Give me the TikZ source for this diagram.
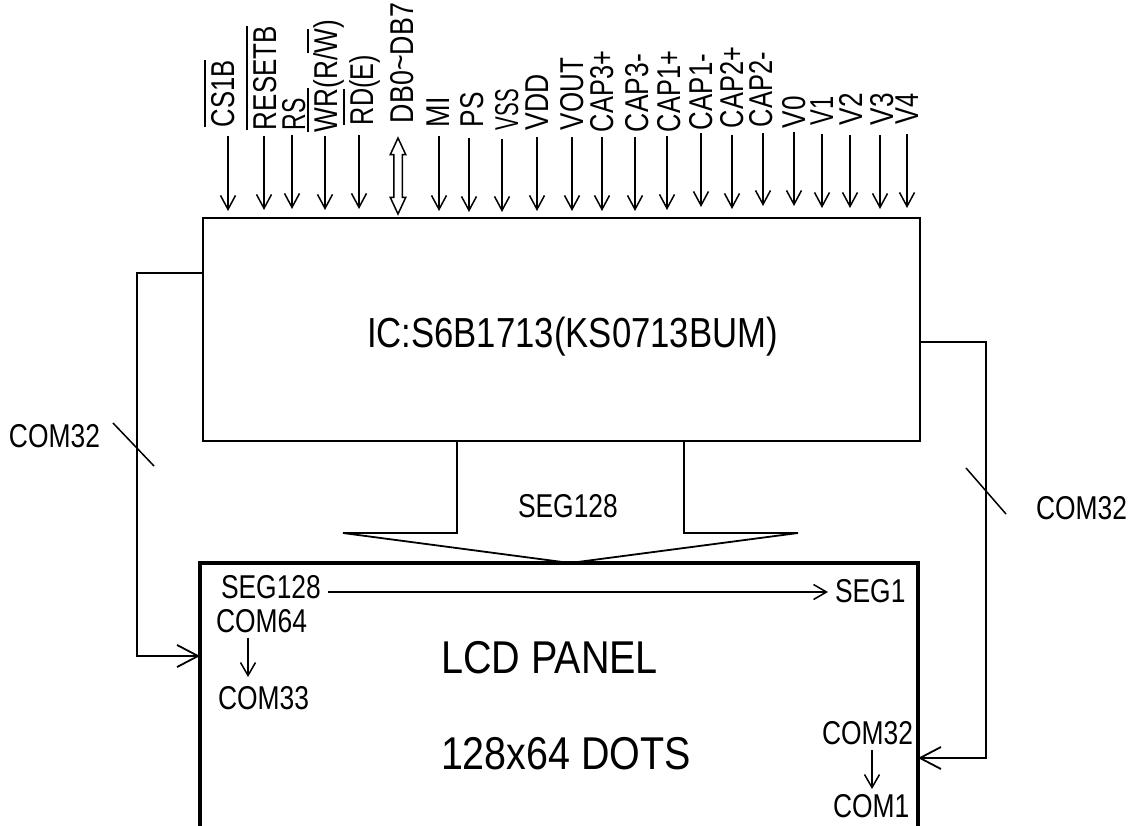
\documentclass[tikz,border=0pt]{standalone}
\usepackage{fontspec}
\setmainfont[FakeStretch=0.8]{Liberation Sans}
\usetikzlibrary{arrows.meta,shapes.arrows}
\newbox\barbox
\newcommand{\barred}[1]{\leavevmode\setbox\barbox\hbox{#1}\rlap{\raisebox{28pt}{\rule{\wd\barbox}{1.6pt}}}\box\barbox}
\newcommand{\fs}[1]{\fontsize{#1}{#1}\selectfont}

\begin{document}
\begin{tikzpicture}[
  x=1pt, y=-1pt,
  font=\fs{33},
  every node/.style={inner sep=0pt, outer sep=0pt},
  line width=1.5pt,
  block/.style={draw, minimum width=717pt, minimum height=223pt},
  panel/.style={draw, line width=4pt, minimum width=718pt, minimum height=300pt},
  pinlabel/.style={rotate=90, anchor=base west},
  textlabel/.style={anchor=base west},
  biglabel/.style={anchor=base west, font=\fs{46}},
  pinarrow/.style={-{Straight Barb[length=14pt, width=15pt]}},
  smallarrow/.style={-{Straight Barb[length=13pt, width=15pt]}},
  busarrow/.style={-{Straight Barb[length=21pt, width=22pt]}},
  busline/.style={line width=1.8pt},
  dbarrow/.style={draw, fill=white, double arrow, minimum height=76pt, inner xsep=0pt, inner ysep=3.5pt, double arrow head extend=3.5pt, double arrow tip angle=50, rotate=90}
]
\clip (0,0) rectangle (1131,825);

\node[block] (ic) at (561.5,329.5) {};
\node[panel] (lcd) at (559,713) {};
\node[biglabel, font=\fs{42}] (icName) at (367,347) {\resizebox{411pt}{\height}{IC:S6B1713(KS0713BUM)}};
\node[biglabel] (lcdName) at (441,673) {\resizebox{217pt}{\height}{LCD PANEL}};
\node[biglabel] (lcdDots) at (441,769) {\resizebox{250pt}{\height}{128x64 DOTS}};

% control and supply pins along the top
\foreach \name/\txt/\len/\base/\bot/\ax/\top/\tip in {
  cs/{\barred{CS1B}}/67/234/127/228/136/211,
  reset/{\barred{RESETB}}/104/276/130/264/136/210,
  rs/{RS}/32/305/130/292/135/209,
  wr/{\barred{WR}(R/\barred{W})}/112/337/132/325/136/210,
  rd/{\barred{RD}(E)}/70/373/125/359/135/209,
  mi/{MI}/30/449/127/439/136/211,
  ps/{PS}/35/483/127/469/138/212,
  vss/{VSS}/41/518/130/502/139/212,
  vdd/{VDD}/56/548/130/537/137/211,
  vout/{VOUT}/72/583/130/572/137/211,
  capa/{CAP3+}/81/613/132/602/137/211,
  capb/{CAP3-}/78/648/132/635/137/211,
  capc/{CAP1+}/81/680/132/667/136/210,
  capd/{CAP1-}/76/712/130/701/133/207,
  cape/{CAP2+}/81/743/128/732/135/209,
  capf/{CAP2-}/75/772/127/763/133/206,
  vzero/{V0}/32/805/128/794/132/206,
  vone/{V1}/29/833/125/822/134/208,
  vtwo/{V2}/32/862/125/850/135/208,
  vthree/{V3}/32/893/125/880/135/209,
  vfour/{V4}/31/918/124/907/134/208}
{
  \node[pinlabel] (\name) at (\base,\bot) {\resizebox{\len pt}{\height}{\txt}};
  \coordinate (\name Top) at (\ax,\top);
  \coordinate (\name Tip) at (\ax,\tip);
  \draw[pinarrow] (\name Top) -- (\name Tip);
}
\node[pinlabel] (db) at (413,123) {\resizebox{120pt}{\height}{DB0\raisebox{2pt}{\textasciitilde}DB7}};
\node[dbarrow] (dbArrow) at (398,176) {};

% COM buses either side
\coordinate (comLeft) at (ic.west |- 0,273);
\coordinate (comRight) at (ic.east |- 0,342);
\coordinate (lcdLeft) at (lcd.west |- 0,656);
\coordinate (lcdRight) at (lcd.east |- 0,758);
\draw[busarrow, busline] (comLeft) -- (137,273) -- (137,656) -- (lcdLeft);
\draw[busarrow, busline] (comRight) -- (986,342) -- (986,758) -- (lcdRight);
\coordinate (tickLeftA) at (113,423);
\coordinate (tickLeftB) at (154,466);
\coordinate (tickRightA) at (966,468);
\coordinate (tickRightB) at (1006,514);
\draw (tickLeftA) -- (tickLeftB);
\draw (tickRightA) -- (tickRightB);
\node[textlabel] (comLeftName) at (9,447) {COM32};
\node[textlabel] (comRightName) at (1036,519) {COM32};

% SEG bus
\coordinate (segA) at (457,441);
\coordinate (segB) at (684,441);
\draw[busline] (segA) -- (457,533) -- (343,533) -- (570,563) -- (798,533) -- (684,533) -- (segB);
\node[textlabel] (segName) at (518,517) {SEG128};

% labels inside the panel
\node[textlabel] (segFirst) at (221,598) {SEG128};
\node[textlabel] (segLast) at (835,602) {SEG1};
\node[textlabel] (comA) at (216,632) {COM64};
\node[textlabel] (comB) at (218,709) {COM33};
\node[textlabel] (comC) at (822,744) {COM32};
\node[textlabel] (comD) at (833,817) {COM1};
\coordinate (segStart) at (328,592);
\coordinate (segEnd) at (828,592);
\coordinate (comAEnd) at (248,638);
\coordinate (comBEnd) at (248,677);
\coordinate (comCEnd) at (872,750);
\coordinate (comDEnd) at (872,789);
\draw[smallarrow] (segStart) -- (segEnd);
\draw[smallarrow] (comAEnd) -- (comBEnd);
\draw[smallarrow] (comCEnd) -- (comDEnd);
\end{tikzpicture}
\end{document}
